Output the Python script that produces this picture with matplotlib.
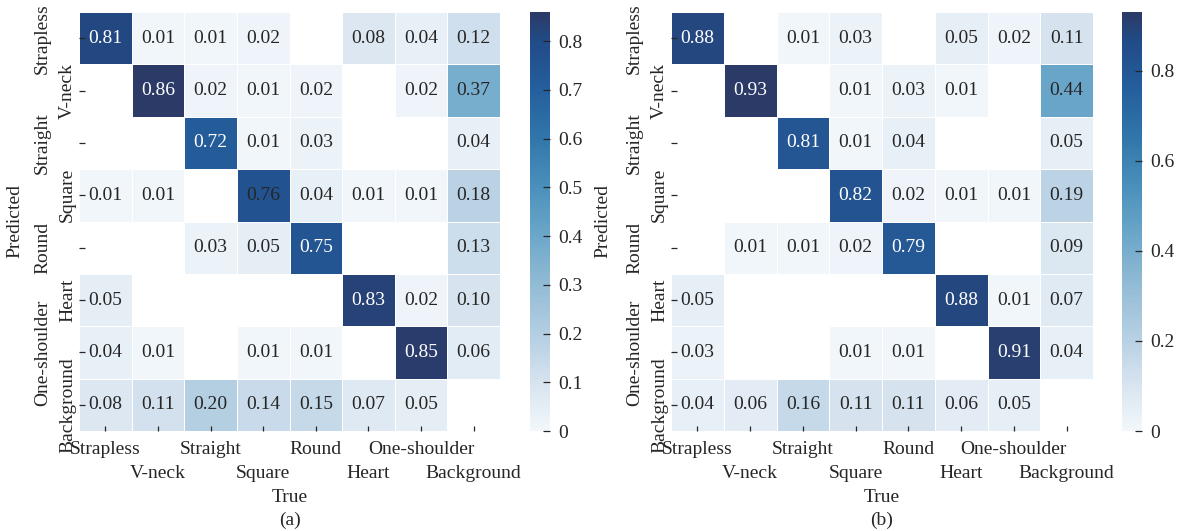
import numpy as np
import matplotlib
matplotlib.use("Agg")
import matplotlib.pyplot as plt
from matplotlib.colors import LinearSegmentedColormap
from matplotlib.transforms import ScaledTranslation
from matplotlib.ticker import FuncFormatter, MultipleLocator

plt.rcParams["font.family"] = ["Liberation Serif", "DejaVu Serif"]
plt.rcParams["font.size"] = 14

classes = ["Strapless", "V-neck", "Straight", "Square", "Round",
           "Heart", "One-shoulder", "Background"]

# rows: predicted class, columns: true class
cm_a = np.array([
    [0.81, 0.01, 0.01, 0.02, 0.00, 0.08, 0.04, 0.12],
    [0.00, 0.86, 0.02, 0.01, 0.02, 0.00, 0.02, 0.37],
    [0.00, 0.00, 0.72, 0.01, 0.03, 0.00, 0.00, 0.04],
    [0.01, 0.01, 0.00, 0.76, 0.04, 0.01, 0.01, 0.18],
    [0.00, 0.00, 0.03, 0.05, 0.75, 0.00, 0.00, 0.13],
    [0.05, 0.00, 0.00, 0.00, 0.00, 0.83, 0.02, 0.10],
    [0.04, 0.01, 0.00, 0.01, 0.01, 0.00, 0.85, 0.06],
    [0.08, 0.11, 0.20, 0.14, 0.15, 0.07, 0.05, 0.00],
])

cm_b = np.array([
    [0.88, 0.00, 0.01, 0.03, 0.00, 0.05, 0.02, 0.11],
    [0.00, 0.93, 0.00, 0.01, 0.03, 0.01, 0.00, 0.44],
    [0.00, 0.00, 0.81, 0.01, 0.04, 0.00, 0.00, 0.05],
    [0.00, 0.00, 0.00, 0.82, 0.02, 0.01, 0.01, 0.19],
    [0.00, 0.01, 0.01, 0.02, 0.79, 0.00, 0.00, 0.09],
    [0.05, 0.00, 0.00, 0.00, 0.00, 0.88, 0.01, 0.07],
    [0.03, 0.00, 0.00, 0.01, 0.01, 0.00, 0.91, 0.04],
    [0.04, 0.06, 0.16, 0.11, 0.11, 0.06, 0.05, 0.00],
])

panel_tags = ["(a)", "(b)"]
cbar_steps = [0.1, 0.2]
# cells whose value label is printed in dark ink despite a dark fill
dark_label_cells = [{(3, 3)}, set()]

W, H = 1189, 531
fig = plt.figure(figsize=(W / 100, H / 100), dpi=100)

INK = "#262626"
# muted blue ramp, light to dark
cmap = LinearSegmentedColormap.from_list("muted_blues", [
    (0.00, "#f3f7fb"),
    (0.116, "#d6e3ef"),
    (0.23, "#b4cee2"),
    (0.35, "#92bbd5"),
    (0.465, "#6ca7c9"),
    (0.58, "#4b91bc"),
    (0.70, "#3176aa"),
    (0.81, "#25609e"),
    (0.93, "#214c88"),
    (1.00, "#2b3a67"),
])
cmap.set_bad("white")


def px_rect(x0, y0, x1, y1):
    return [x0 / W, 1 - y1 / H, (x1 - x0) / W, (y1 - y0) / H]


layouts = [
    (px_rect(79, 12, 500, 431), px_rect(530, 12, 550, 431), 15),
    (px_rect(671, 12, 1093, 431), px_rect(1122, 12, 1142, 431), 603),
]

for cm, tag, step, dark_cells, (ax_rect, cb_rect, ylab_x) in zip(
        [cm_a, cm_b], panel_tags, cbar_steps, dark_label_cells, layouts):
    ax = fig.add_axes(ax_rect)
    cax = fig.add_axes(cb_rect)
    n = len(classes)
    data = np.ma.masked_where(cm == 0, cm)
    vmax = cm.max()
    mesh = ax.pcolormesh(np.arange(n + 1), np.arange(n + 1), data,
                         cmap=cmap, vmin=0, vmax=vmax,
                         edgecolors="white", linewidth=0.5)
    ax.set_xlim(0, n)
    ax.set_ylim(n, 0)
    for s in ax.spines.values():
        s.set_visible(False)

    for i in range(n):
        for j in range(n):
            v = cm[i, j]
            if v == 0:
                continue
            color = "white" if (v > 0.5 and (i, j) not in dark_cells) else INK
            ax.text(j + 0.5, i + 0.5, f"{v:.2f}", ha="center", va="center",
                    fontsize=14, color=color)

    ax.set_xticks(np.arange(n) + 0.5)
    ax.set_yticks(np.arange(n) + 0.5)
    ax.set_xticklabels(classes)
    ax.set_yticklabels(classes, rotation=90, va="center")
    ax.tick_params(axis="x", direction="in", length=3.5, width=0.9,
                   color=INK, labelcolor=INK, pad=7, labelsize=14)
    ax.tick_params(axis="y", direction="in", length=4.5, width=0.9,
                   color=INK, labelcolor=INK, pad=2, labelsize=14)

    # staggered labels: odd columns drop one line, even rows step outward
    for k, lab in enumerate(ax.get_xticklabels()):
        if k % 2 == 1:
            lab.set_transform(lab.get_transform() +
                              ScaledTranslation(0, -24 / 100, fig.dpi_scale_trans))
    for k, lab in enumerate(ax.get_yticklabels()):
        if k % 2 == 0:
            lab.set_transform(lab.get_transform() +
                              ScaledTranslation(-25 / 100, 0, fig.dpi_scale_trans))

    ax.set_xlabel("True", fontsize=14, color=INK, va="center")
    ax.xaxis.set_label_coords(0.5, (431 - 497) / 419)
    ax.set_ylabel("Predicted", fontsize=14, color=INK, va="center")
    ax.yaxis.set_label_coords((ylab_x - ax_rect[0] * W) / (ax_rect[2] * W), 0.5)
    ax.text(0.5, (431 - 520) / 419, tag, transform=ax.transAxes,
            ha="center", va="center", fontsize=14, color=INK)

    cb = fig.colorbar(mesh, cax=cax)
    cb.outline.set_visible(False)
    cb.locator = MultipleLocator(step)
    cb.formatter = FuncFormatter(lambda x, p: f"{x:g}")
    cb.update_ticks()
    cax.tick_params(direction="in", length=5, width=0.9, color=INK,
                    labelcolor=INK, pad=6, labelsize=14)

fig.savefig("out.png", dpi=100)
